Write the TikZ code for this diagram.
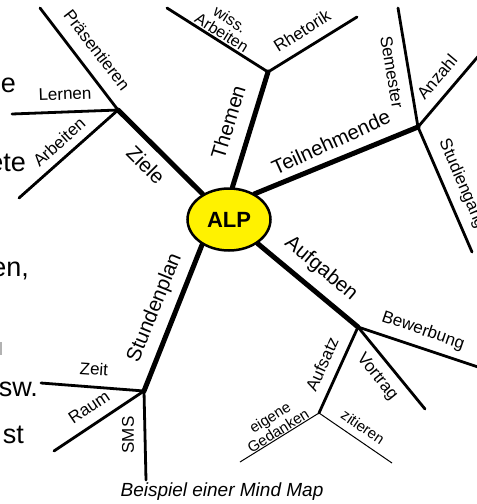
\documentclass[tikz,border=0pt]{standalone}
\usepackage{fontspec}
\setmainfont{Liberation Sans}
\usetikzlibrary{backgrounds,shapes.geometric}
\tikzset{
  mainbr/.style={line width=5pt, line cap=round},
  subbr/.style={line width=2.8pt, line cap=round},
  leafbr/.style={line width=1pt},
  lbl/.style={font=\fontsize{17}{19}\selectfont, inner sep=0pt},
  mlbl/.style={font=\fontsize{20.5}{23}\selectfont, inner sep=0pt},
  slbl/.style={font=\fontsize{15}{15.5}\selectfont, inner sep=0pt, align=center},
  bgtxt/.style={font=\fontsize{27}{30}\selectfont, inner sep=0pt, anchor=base east},
}
\begin{document}
\begin{tikzpicture}[x=1pt,y=-1pt]
\clip (0,0) rectangle (477,504);
\useasboundingbox (0,0) rectangle (477,504);
% background text fragments
\node[bgtxt] (b1) at (16,92) {e};
\node[bgtxt] (b2) at (26,171) {ete};
\node[bgtxt] (b3) at (29,276) {en,};
\node[bgtxt] (b4) at (38,396) {sw.};
\node[bgtxt] (b5) at (24,443) {st};
\draw[gray!60, line width=1.5pt] (1,342) -- (1,355);
% centre
\node[draw, line width=2.5pt, fill=yellow, ellipse, minimum width=83pt, minimum height=62pt, inner sep=0pt] (ALP) at (229,219.5) {\fontsize{22}{24}\selectfont\bfseries ALP};
% junctions and ends
\coordinate (J1) at (118,110);
\coordinate (J2) at (268,72);
\coordinate (J3) at (418,127);
\coordinate (J4) at (358,327);
\coordinate (J5) at (144,391);
\coordinate (J6) at (319,413);
\coordinate (ePr) at (40,8);
\coordinate (eLe) at (12,114);
\coordinate (eAr) at (19,198);
\coordinate (eWi) at (167,8);
\coordinate (eRh) at (357,17);
\coordinate (eSe) at (398,8);
\coordinate (eAn) at (481,53);
\coordinate (eSt) at (472,252);
\coordinate (eBe) at (481,368);
\coordinate (eVo) at (425,409);
\coordinate (eEi) at (240,462);
\coordinate (eZi) at (392,463);
\coordinate (eZe) at (41,383);
\coordinate (eRa) at (54,451);
\coordinate (eSM) at (146,480);
\begin{pgfonlayer}{background}
\draw[mainbr] (ALP.136) -- (J1);
\draw[mainbr] (ALP.84) -- (J2);
\draw[mainbr] (ALP.45) -- (J3);
\draw[mainbr] (ALP.-40) -- (J4);
\draw[mainbr] (ALP.-137) -- (J5);
\draw[subbr] (J1) -- (ePr);
\draw[subbr] (J1) -- (eLe);
\draw[subbr] (J1) -- (eAr);
\draw[subbr] (J2) -- (eWi);
\draw[subbr] (J2) -- (eRh);
\draw[subbr] (J3) -- (eSe);
\draw[subbr] (J3) -- (eAn);
\draw[subbr] (J3) -- (eSt);
\draw[subbr] (J4) -- (eBe);
\draw[subbr] (J4) -- (eVo);
\draw[subbr] (J4) -- (J6);
\draw[leafbr] (J6) -- (eEi);
\draw[leafbr] (J6) -- (eZi);
\draw[subbr] (J5) -- (eZe);
\draw[subbr] (J5) -- (eRa);
\draw[subbr] (J5) -- (eSM);
\end{pgfonlayer}
% labels
\node[lbl, rotate=-52.5] (lPr) at (97,50) {Präsentieren};
\node[lbl, rotate=2] (lLe) at (65,94) {Lernen};
\node[lbl, rotate=42] (lAr) at (59,142) {Arbeiten};
\node[mlbl, rotate=-45] (lZi) at (146,165) {Ziele};
\node[mlbl, rotate=73] (lTh) at (228,122) {Themen};
\node[slbl, font=\fontsize{16}{15.5}\selectfont, rotate=-32] (lWi) at (226,26) {wiss.\\Arbeiten};
\node[lbl, rotate=32] (lRh) at (302,31) {Rhetorik};
\node[mlbl, rotate=24.5] (lTe) at (331,142) {Teilnehmende};
\node[lbl, rotate=-80.5] (lSe) at (392,72) {Semester};
\node[lbl, rotate=50] (lAn) at (437,77) {Anzahl};
\node[lbl, rotate=-66.6] (lSt) at (462,184) {Studiengang};
\node[mlbl, rotate=-40] (lAu) at (321,269) {Aufgaben};
\node[lbl, rotate=-19] (lBe) at (423,331) {Bewerbung};
\node[lbl, rotate=-51] (lVo) at (377,377) {Vortrag};
\node[lbl, rotate=65.6] (lAs) at (322,364) {Aufsatz};
\node[slbl, rotate=32] (lEi) at (274,424) {eigene\\Gedanken};
\node[slbl, rotate=-34] (lZt) at (363,427) {zitieren};
\node[mlbl, rotate=68] (lSp) at (155,308) {Stundenplan};
\node[lbl, rotate=-4] (lZe) at (94,369) {Zeit};
\node[lbl, rotate=34] (lRa) at (89,407) {Raum};
\node[lbl, rotate=90] (lSM) at (128,435) {SMS};
% caption
\node[font=\fontsize{19}{22}\selectfont\itshape, inner sep=0pt] (cap) at (222,492) {Beispiel einer Mind Map};
\end{tikzpicture}
\end{document}
